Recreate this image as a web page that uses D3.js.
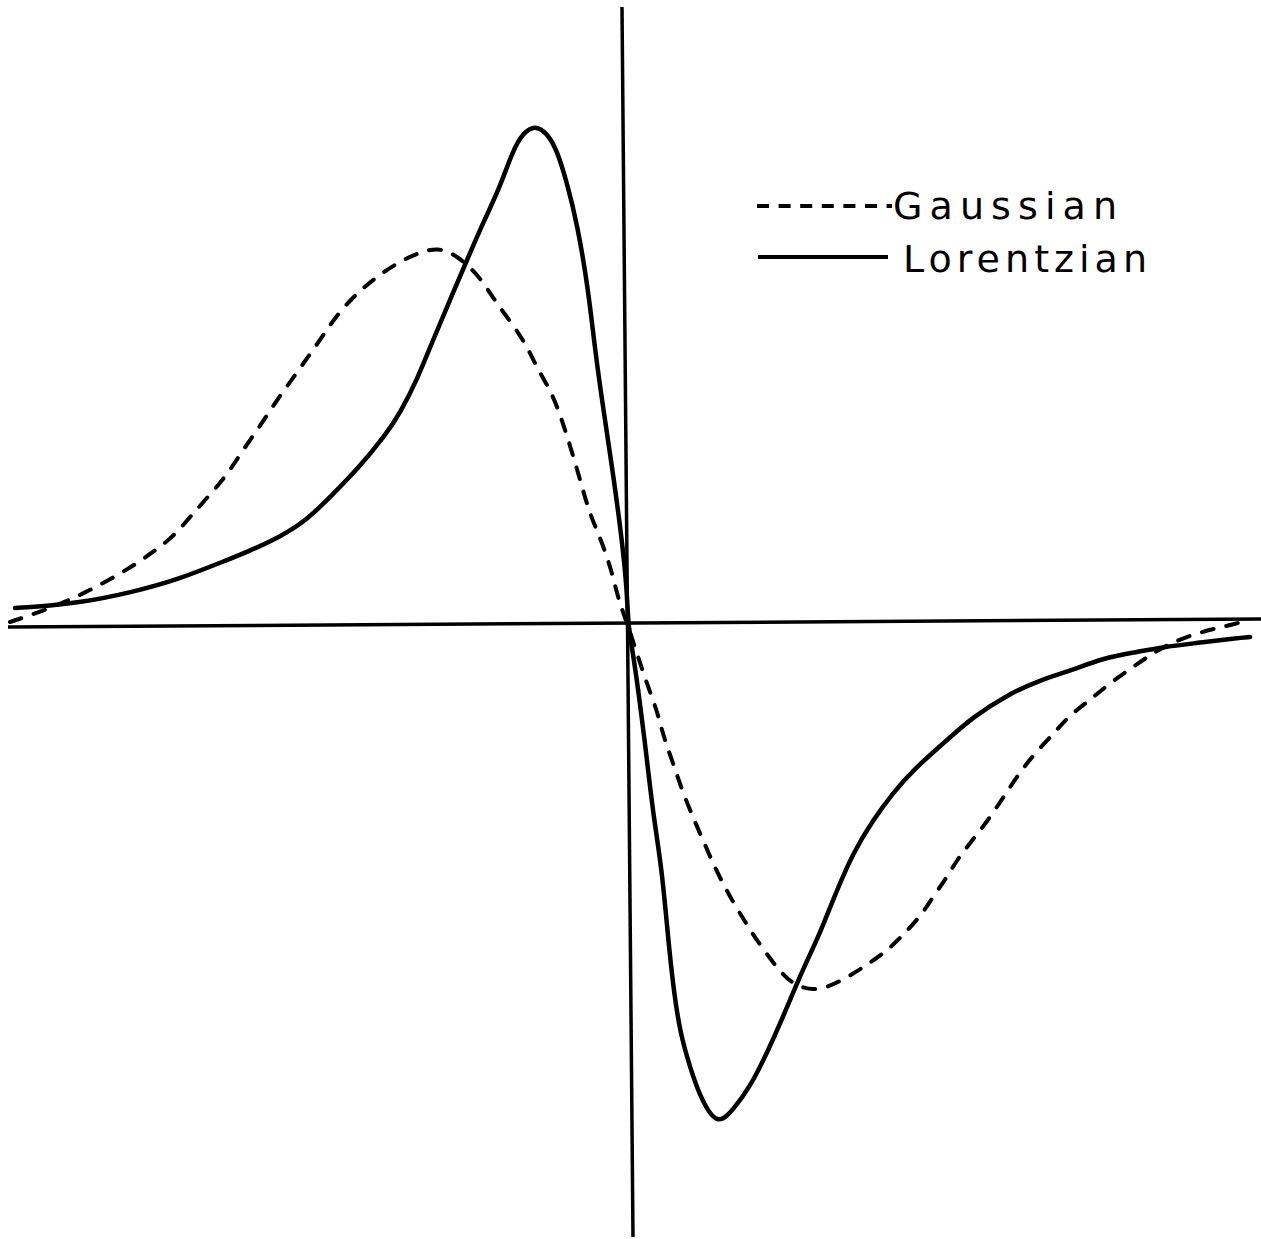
<!DOCTYPE html>
<html>
<head>
  <meta charset="utf-8">
  <title>Gaussian and Lorentzian derivative lineshapes</title>
  <script src="https://d3js.org/d3.v7.min.js"></script>
  <style>
    body { margin: 0; background: #fff; }
    svg { display: block; }
  </style>
  <script type="text/javascript">
    // first-derivative lineshapes, values
    // x in units of 100 px from the crossing, y normalised to the Lorentzian peak
    var gaussX = [-6.18, -5.91, -5.58, -5.28, -4.98, -4.75, -4.55, -4.38, -4.21, -4.01,
                  -3.85, -3.66, -3.51, -3.35, -3.20, -3.06, -2.91, -2.73, -2.53, -2.31,
                  -2.10, -1.90, -1.70, -1.48, -1.35, -1.21, -1.03, -0.91, -0.76, -0.66,
                  -0.56, -0.47, -0.38, -0.26, -0.16, -0.09, 0.00, 0.18, 0.29, 0.35,
                  0.45, 0.55, 0.67, 0.78, 0.88, 1.02, 1.19, 1.34, 1.51, 1.65,
                  1.89, 2.15, 2.39, 2.60, 2.75, 2.92, 3.05, 3.19, 3.29, 3.42,
                  3.55, 3.69, 3.82, 3.95, 4.10, 4.27, 4.42, 4.62, 4.82, 5.05,
                  5.25, 5.45, 5.72, 5.99, 6.10];
    var gaussY = [0.006, 0.024, 0.050, 0.080, 0.114, 0.146, 0.176, 0.216, 0.254, 0.300,
                  0.350, 0.404, 0.450, 0.494, 0.536, 0.576, 0.620, 0.660, 0.694, 0.724,
                  0.744, 0.756, 0.738, 0.696, 0.654, 0.616, 0.566, 0.514, 0.464, 0.410,
                  0.346, 0.284, 0.220, 0.166, 0.106, 0.046, 0.000, -0.114, -0.170, -0.220,
                  -0.276, -0.336, -0.394, -0.444, -0.490, -0.544, -0.600, -0.646, -0.690, -0.720,
                  -0.734, -0.710, -0.680, -0.650, -0.620, -0.584, -0.544, -0.504, -0.470, -0.436,
                  -0.404, -0.364, -0.324, -0.286, -0.250, -0.214, -0.180, -0.150, -0.116, -0.084,
                  -0.056, -0.034, -0.014, -0.002, 0.004];

    var lorentzX = [-6.13, -5.95, -5.48, -4.95, -4.51, -4.01, -3.81, -3.48, -3.21, -2.98,
                    -2.71, -2.41, -2.28, -2.11, -1.95, -1.78, -1.61, -1.45, -1.28, -1.15,
                    -1.05, -0.93, -0.81, -0.71, -0.61, -0.51, -0.40, -0.33, -0.25, -0.15,
                    -0.06, -0.01, 0.00, 0.05, 0.12, 0.19, 0.25, 0.34, 0.40, 0.45,
                    0.52, 0.62, 0.72, 0.89, 1.05, 1.22, 1.39, 1.55, 1.69, 1.84,
                    1.92, 2.09, 2.25, 2.45, 2.65, 2.85, 3.19, 3.45, 3.79, 4.12,
                    4.45, 4.75, 5.09, 5.35, 5.69, 6.09, 6.22];
    var lorentzY = [0.034, 0.036, 0.044, 0.066, 0.090, 0.130, 0.146, 0.176, 0.210, 0.256,
                    0.310, 0.384, 0.424, 0.490, 0.570, 0.650, 0.730, 0.804, 0.876, 0.950,
                    0.984, 1.000, 0.984, 0.950, 0.884, 0.804, 0.676, 0.550, 0.436, 0.304,
                    0.170, 0.070, 0.000, -0.056, -0.156, -0.270, -0.376, -0.490, -0.624, -0.720,
                    -0.816, -0.884, -0.944, -1.003, -0.970, -0.924, -0.856, -0.784, -0.716, -0.650,
                    -0.616, -0.530, -0.456, -0.390, -0.336, -0.290, -0.230, -0.184, -0.140, -0.110,
                    -0.090, -0.066, -0.054, -0.044, -0.036, -0.026, -0.024];

    // hand-ruled axes, slightly off square as in the drawing
    var hAxisX = [-6.20, 6.33];
    var hAxisY = [-0.004, 0.012];
    var vAxisX = [-0.06, 0.05];
    var vAxisY = [1.236, -1.224];

    var legendLabels = ["Gaussian", "Lorentzian"];
    var legendDash = ["12,9.6", null];

    function draw() {
      "use strict";
      var width = 1261,
          height = 1239;

      var svg = d3.select("body").append("svg")
          .attr("width", width)
          .attr("height", height);

      var x = d3.scaleLinear().domain([-1, 1]).range([528, 728]);
      var y = d3.scaleLinear().domain([-1, 1]).range([1125, 125]);

      // basis curve smooths out the jitter of the hand-read points
      var line = d3.line()
          .x(function (d) { return x(d[0]); })
          .y(function (d) { return y(d[1]); })
          .curve(d3.curveBasis);

      var straight = d3.line()
          .x(function (d) { return x(d[0]); })
          .y(function (d) { return y(d[1]); });

      // axes
      svg.append("path")
          .datum(d3.zip(hAxisX, hAxisY))
          .attr("d", straight)
          .attr("fill", "none")
          .attr("stroke", "#000")
          .attr("stroke-width", 3.5);

      svg.append("path")
          .datum(d3.zip(vAxisX, vAxisY))
          .attr("d", straight)
          .attr("fill", "none")
          .attr("stroke", "#000")
          .attr("stroke-width", 3.5);

      // curves
      svg.append("path")
          .datum(d3.zip(gaussX, gaussY))
          .attr("class", "gaussian")
          .attr("d", line)
          .attr("fill", "none")
          .attr("stroke", "#000")
          .attr("stroke-width", 4)
          .attr("stroke-linecap", "round")
          .attr("stroke-dasharray", "12,13");

      svg.append("path")
          .datum(d3.zip(lorentzX, lorentzY))
          .attr("class", "lorentzian")
          .attr("d", line)
          .attr("fill", "none")
          .attr("stroke", "#000")
          .attr("stroke-width", 4.5)
          .attr("stroke-linecap", "round")
          .attr("stroke-linejoin", "round");

      // legend
      var legend = svg.append("g").attr("class", "legend");
      var rows = legend.selectAll("g")
          .data(legendLabels)
          .enter()
          .append("g")
          .attr("transform", function (d, i) { return "translate(0," + (206 + i * 51) + ")"; });

      rows.append("line")
          .attr("x1", function (d, i) { return i === 0 ? 757 : 758; })
          .attr("x2", function (d, i) { return i === 0 ? 892 : 888; })
          .attr("y1", 0)
          .attr("y2", 0)
          .attr("stroke", "#000")
          .attr("stroke-width", 4)
          .attr("stroke-dasharray", function (d, i) { return legendDash[i]; });

      rows.append("text")
          .attr("x", function (d, i) { return i === 0 ? 893 : 903; })
          .attr("y", function (d, i) { return i === 0 ? 13 : 15; })
          .attr("textLength", function (d, i) { return i === 0 ? 224 : 244; })
          .attr("lengthAdjust", "spacing")
          .style("font-family", "'DejaVu Sans'")
          .style("font-size", "38px")
          .text(function (d) { return d; });
    }
  </script>
</head>
<body>
  <script type="text/javascript">
    draw();
  </script>
</body>
</html>
